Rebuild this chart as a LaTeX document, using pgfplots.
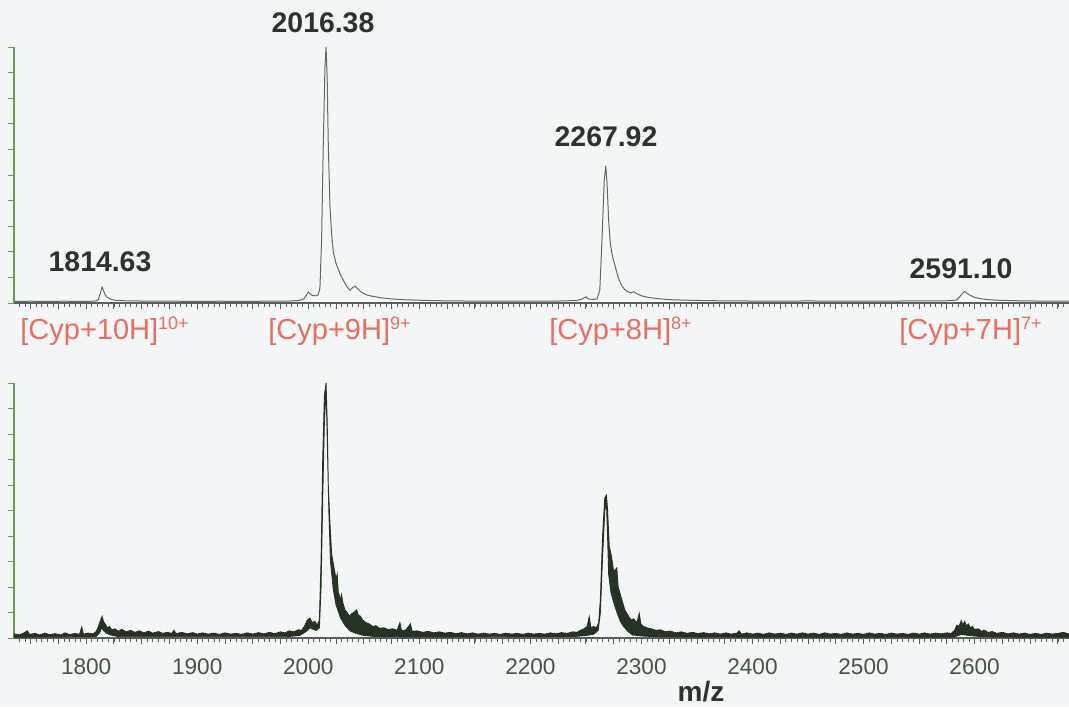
\documentclass[border=0pt]{standalone}
\usepackage{pgfplots}
\pgfplotsset{compat=1.18}
\usepackage{fontspec}
\setmainfont{Liberation Sans}

\definecolor{bg}{RGB}{244,245,247}
\definecolor{pk}{RGB}{45,50,45}
\definecolor{ion}{RGB}{229,112,95}
\definecolor{tk}{RGB}{68,86,66}
\definecolor{specA}{RGB}{100,105,100}
\definecolor{specB}{RGB}{38,50,36}
\definecolor{yax}{RGB}{100,160,80}
\definecolor{xax}{RGB}{90,95,90}

\newcommand{\pkfont}{\fontsize{14.2}{16}\selectfont\bfseries}
\newcommand{\ionfont}{\fontsize{14.5}{17}\selectfont}
\newcommand{\sups}[1]{\raisebox{5.2pt}{\fontsize{9}{10}\selectfont #1}}

\pgfplotsset{
  spec/.style={
    scale only axis, width=527.5pt, height=128pt,
    xmin=1735, xmax=2685, ymin=0, ymax=1,
    axis x line=bottom, axis y line=left,
    axis line style={-},
    x axis line style={xax, line width=0.6pt},
    y axis line style={yax, line width=0.7pt},
    xtick align=outside, ytick align=outside,
    xtick pos=left, ytick pos=left,
    xtick={1750,1775,...,2675},
    minor xtick={1740,1745,...,2685},
    major tick length=3.2pt, minor tick length=2pt,
    every tick/.style={xax, line width=0.45pt},
    every minor tick/.style={xax, line width=0.35pt},
    every y tick/.style={yax, line width=0.45pt},
    ytick={0,0.1,...,1.0}, yticklabels={},
    clip=false,
  },
}

\begin{document}
\begin{tikzpicture}
\useasboundingbox (0,0) rectangle (534.5pt,353.5pt);
\fill[bg] (0,0) rectangle (534.5pt,353.5pt);

% top: smoothed spectrum
\begin{axis}[spec, at={(7pt,202pt)}, anchor=south west, xticklabels={}]
\addplot[specA, line width=0.5pt] coordinates {
(1735,0.006) (1750,0.007) (1765,0.006) (1780,0.007) (1795,0.006) (1805,0.007)
(1809,0.008) (1811,0.014) (1812.5,0.035) (1814.4,0.062) (1815.5,0.05) (1817,0.032)
(1819,0.022) (1822,0.015) (1826,0.011) (1832,0.009) (1845,0.008) (1860,0.007)
(1880,0.007) (1900,0.006) (1920,0.007) (1940,0.006) (1960,0.007) (1975,0.007)
(1985,0.008) (1992,0.01) (1996,0.016) (1998.5,0.032) (2000,0.043) (2001.5,0.036)
(2004,0.029) (2007,0.028) (2009,0.032) (2010.5,0.06) (2012,0.25) (2013.5,0.62)
(2015,0.92) (2016,1.0) (2017,0.88) (2018,0.62) (2019.5,0.38) (2021,0.27)
(2022.5,0.2) (2025,0.155) (2028.5,0.115) (2032,0.085) (2035,0.062) (2037.5,0.05)
(2040,0.06) (2042,0.066) (2044,0.058) (2047,0.045) (2052,0.032) (2058,0.026)
(2066,0.02) (2075,0.016) (2085,0.013) (2098,0.011) (2115,0.009) (2135,0.008)
(2160,0.007) (2185,0.007) (2210,0.007) (2230,0.008) (2242,0.01) (2247,0.016)
(2250,0.024) (2252,0.016) (2256,0.014) (2260,0.016) (2262.5,0.05) (2264.5,0.25)
(2266.5,0.48) (2267.9,0.535) (2269,0.47) (2270.5,0.32) (2272,0.23) (2274,0.18)
(2276,0.15) (2279,0.1) (2282,0.07) (2285,0.052) (2288,0.043) (2291,0.04)
(2293,0.044) (2296,0.036) (2300,0.028) (2306,0.022) (2315,0.017) (2325,0.013)
(2340,0.011) (2360,0.009) (2390,0.008) (2420,0.007) (2450,0.008) (2480,0.007)
(2510,0.007) (2540,0.008) (2565,0.008) (2578,0.009) (2584,0.012) (2587,0.026)
(2589.5,0.04) (2591,0.045) (2593,0.038) (2596,0.03) (2600,0.022) (2605,0.017)
(2612,0.013) (2620,0.011) (2635,0.009) (2650,0.008) (2670,0.007) (2685,0.007)
};
\end{axis}

% bottom: raw spectrum, noise band as upper envelope then lower envelope
\begin{axis}[spec, at={(7pt,34.5pt)}, anchor=south west, height=127.5pt,
  extra x ticks={1800,1900,...,2600},
  xticklabels={},
  extra x tick labels={1800,1900,2000,2100,2200,2300,2400,2500,2600},
  xticklabel style={font=\fontsize{11.3}{13}\selectfont, text=tk, yshift=-3.5pt}]
\addplot[specB, fill=specB, line width=0.45pt] coordinates {
(1735,0.016) (1740,0.012) (1744,0.02) (1747,0.028) (1749,0.014) (1754,0.018)
(1758,0.012) (1763,0.019) (1767,0.013) (1772,0.017) (1777,0.012) (1781,0.02)
(1785,0.013) (1790,0.018) (1794,0.014) (1796,0.043) (1797.5,0.015) (1802,0.019)
(1806,0.016) (1809,0.025) (1811,0.045) (1813,0.07) (1814.4,0.085) (1815.5,0.065)
(1817,0.055) (1819,0.04) (1821,0.045) (1823,0.032) (1826,0.036) (1829,0.026)
(1832,0.034) (1836,0.024) (1840,0.03) (1844,0.022) (1848,0.028) (1852,0.02)
(1856,0.027) (1860,0.019) (1865,0.025) (1869,0.018) (1873,0.022) (1877,0.018)
(1879,0.03) (1881,0.017) (1886,0.022) (1891,0.016) (1896,0.021) (1900,0.015)
(1905,0.02) (1910,0.015) (1915,0.019) (1920,0.014) (1925,0.02) (1930,0.015)
(1935,0.018) (1940,0.014) (1945,0.02) (1950,0.015) (1955,0.021) (1960,0.016)
(1965,0.022) (1970,0.017) (1975,0.024) (1979,0.02) (1983,0.028) (1987,0.024)
(1991,0.032) (1994,0.03) (1997,0.05) (1999,0.07) (2001.5,0.078) (2003.5,0.06)
(2006,0.065) (2008,0.05) (2010,0.07) (2011.5,0.3) (2013,0.7) (2014.5,0.95)
(2016,1.0) (2017,0.85) (2018,0.6) (2019.5,0.45) (2021,0.33) (2023,0.28)
(2025,0.23) (2026,0.25) (2027,0.18) (2029,0.15) (2030,0.17) (2031,0.14) (2033,0.11) (2035,0.1)
(2037,0.085) (2039,0.095) (2041,0.1) (2043.5,0.11) (2045,0.09) (2047,0.085)
(2049,0.07) (2052,0.06) (2055,0.055) (2058,0.045) (2061,0.048) (2064,0.038)
(2068,0.04) (2072,0.033) (2076,0.036) (2080,0.03) (2082.5,0.06) (2084,0.028)
(2088,0.032) (2092,0.055) (2093.5,0.026) (2098,0.028) (2103,0.022) (2108,0.026)
(2113,0.02) (2118,0.024) (2123,0.019) (2128,0.022) (2133,0.017) (2138,0.021)
(2143,0.016) (2148,0.02) (2153,0.015) (2158,0.019) (2163,0.015) (2168,0.018)
(2173,0.014) (2178,0.019) (2183,0.015) (2188,0.018) (2193,0.014) (2198,0.019)
(2203,0.015) (2208,0.018) (2213,0.015) (2218,0.02) (2223,0.016) (2228,0.021)
(2233,0.018) (2238,0.024) (2242,0.022) (2245,0.03) (2248,0.035) (2251,0.045)
(2253,0.083) (2254.5,0.04) (2257,0.045) (2259.5,0.04) (2261.5,0.06) (2263,0.15)
(2265,0.4) (2267,0.55) (2268.5,0.56) (2269.5,0.5) (2271,0.36) (2273,0.32)
(2275,0.26) (2277.8,0.275) (2279,0.2) (2281,0.17) (2283,0.14) (2285,0.11)
(2287,0.095) (2289,0.08) (2291,0.07) (2293,0.075) (2296,0.06) (2298,0.096)
(2299.5,0.055) (2302,0.045) (2305,0.04) (2309,0.036) (2313,0.03) (2317,0.032)
(2321,0.025) (2326,0.027) (2331,0.02) (2336,0.024) (2341,0.018) (2346,0.022)
(2351,0.017) (2356,0.021) (2361,0.016) (2366,0.02) (2371,0.015) (2376,0.02)
(2381,0.015) (2386,0.019) (2388,0.028) (2390,0.015) (2395,0.02) (2400,0.015)
(2405,0.019) (2410,0.014) (2415,0.02) (2420,0.015) (2425,0.019) (2430,0.014)
(2435,0.019) (2440,0.015) (2445,0.02) (2450,0.015) (2455,0.019) (2460,0.014)
(2465,0.02) (2470,0.015) (2475,0.018) (2480,0.014) (2485,0.02) (2490,0.015)
(2495,0.018) (2500,0.014) (2505,0.02) (2510,0.015) (2515,0.018) (2520,0.014)
(2525,0.019) (2530,0.015) (2535,0.018) (2540,0.014) (2545,0.019) (2550,0.015)
(2555,0.02) (2560,0.015) (2565,0.019) (2570,0.016) (2575,0.02) (2579,0.018)
(2582,0.03) (2584,0.05) (2586,0.045) (2588,0.068) (2589.5,0.05) (2591,0.065)
(2592.5,0.048) (2594.5,0.055) (2596,0.04) (2598,0.045) (2600,0.033) (2603,0.036)
(2606,0.027) (2609,0.03) (2612,0.022) (2616,0.025) (2620,0.018) (2625,0.022)
(2630,0.016) (2635,0.02) (2640,0.015) (2645,0.019) (2650,0.014) (2655,0.018)
(2660,0.014) (2665,0.019) (2670,0.015) (2675,0.018) (2680,0.022) (2685,0.015)
(2685,0.003) (2620,0.004) (2605,0.006) (2595,0.01) (2588,0.014) (2584,0.008)
(2580,0.003) (2320,0.004) (2300,0.008) (2292,0.012) (2288,0.025) (2284,0.045)
(2281,0.065) (2278,0.1) (2275,0.14) (2272.5,0.18) (2270.5,0.25) (2269.5,0.4)
(2268.5,0.53) (2267,0.5) (2265,0.32) (2263,0.1) (2261,0.03) (2257,0.015)
(2250,0.01) (2240,0.006) (2100,0.004) (2060,0.006) (2050,0.01) (2042,0.02)
(2037.6,0.028) (2033,0.05) (2029,0.08) (2025,0.13) (2022.5,0.19) (2020,0.3)
(2018.5,0.5) (2017,0.8) (2016,0.97) (2014.5,0.85) (2013,0.55) (2011.5,0.2)
(2010,0.04) (2007,0.03) (2004,0.035) (2001.5,0.04) (1998,0.025) (1992,0.01)
(1980,0.005) (1830,0.005) (1822,0.012) (1818,0.02) (1815.5,0.03) (1814,0.04)
(1812,0.02) (1809,0.006) (1735,0.003) (1735,0.016)
};
\end{axis}

% peak labels
\node[anchor=base, text=pk, font=\pkfont] at (161.5pt,337pt) {2016.38};
\node[anchor=base, text=pk, font=\pkfont] at (50pt,217.5pt) {1814.63};
\node[anchor=base, text=pk, font=\pkfont] at (303pt,280pt) {2267.92};
\node[anchor=base, text=pk, font=\pkfont] at (480.5pt,214pt) {2591.10};

% ion labels
\node[anchor=base west, text=ion, font=\ionfont, inner sep=0pt] at (10pt,183.5pt) {[Cyp+10H]\sups{10+}};
\node[anchor=base west, text=ion, font=\ionfont, inner sep=0pt] at (134pt,183.5pt) {[Cyp+9H]\sups{9+}};
\node[anchor=base west, text=ion, font=\ionfont, inner sep=0pt] at (274.5pt,183.5pt) {[Cyp+8H]\sups{8+}};
\node[anchor=base west, text=ion, font=\ionfont, inner sep=0pt] at (449.5pt,183.5pt) {[Cyp+7H]\sups{7+}};

% axis title
\node[anchor=base, text=pk, font=\fontsize{14}{16}\selectfont\bfseries] at (350.5pt,3pt) {m/z};
\end{tikzpicture}
\end{document}
